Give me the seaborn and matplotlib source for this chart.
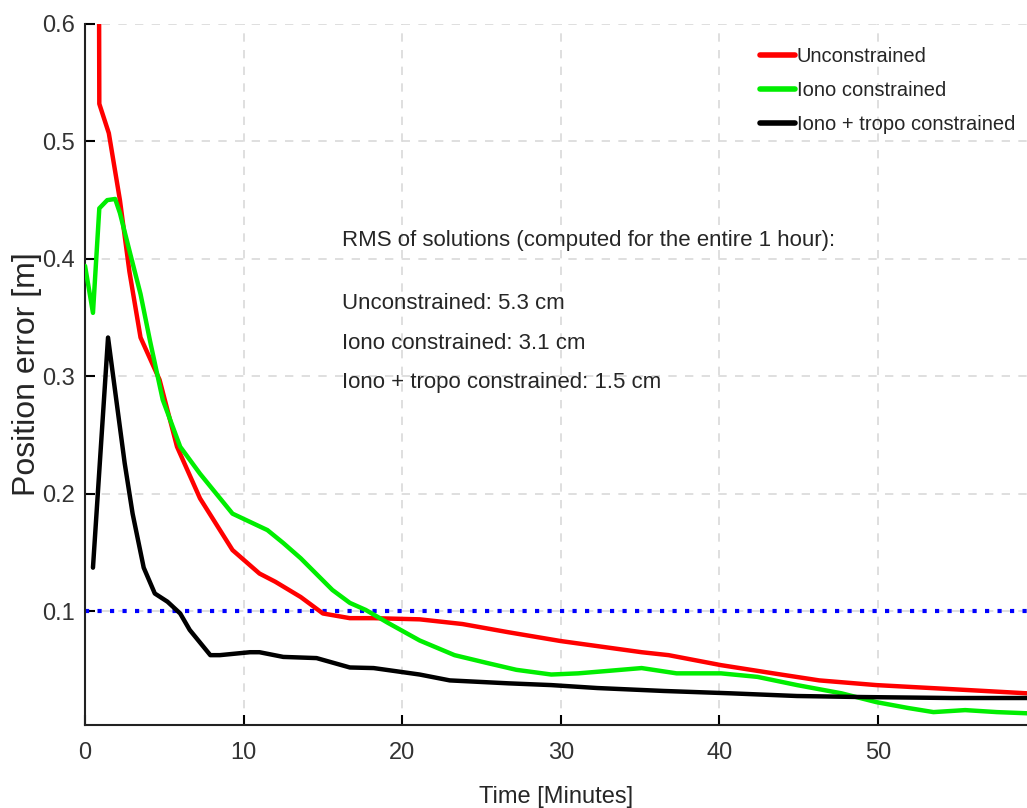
import matplotlib
matplotlib.use('Agg')
import matplotlib.pyplot as plt
import seaborn as sns
import pandas as pd
import numpy as np

# --- data ---
t_unc = [0.85, 0.9, 1.5, 2.2, 2.8, 3.5, 4.7, 5.8, 7.25, 9.3, 11.0, 12.0, 13.6, 15.0, 16.7,
         18.2, 21.1, 23.8, 26.7, 30.0, 35.1, 36.8, 40.1, 43.4, 46.3, 49.9, 54.7, 59.4]
e_unc = [0.80, 0.532, 0.507, 0.45, 0.389, 0.333, 0.297, 0.24, 0.196, 0.152, 0.132, 0.125, 0.112, 0.098, 0.094,
         0.094, 0.093, 0.089, 0.082, 0.0745, 0.065, 0.0625, 0.054, 0.047, 0.041, 0.037, 0.0335, 0.030]

t_iono = [0.0, 0.5, 0.9, 1.4, 1.9, 2.2, 2.8, 3.5, 4.1, 4.9, 6.0, 7.25, 9.3, 11.5, 12.5, 13.6, 15.6, 16.7,
          17.7, 19.1, 21.1, 23.3, 25.3, 27.2, 29.4, 31.1, 32.9, 35.1, 37.3, 40.1, 42.4, 44.9, 47.7, 49.9,
          51.9, 53.5, 55.5, 57.5, 59.4]
e_iono = [0.394, 0.354, 0.443, 0.45, 0.451, 0.439, 0.407, 0.37, 0.33, 0.28, 0.24, 0.217, 0.183, 0.169, 0.158, 0.145, 0.118, 0.107,
          0.101, 0.090, 0.075, 0.0625, 0.056, 0.050, 0.046, 0.047, 0.049, 0.0515, 0.047, 0.047, 0.044, 0.037, 0.030, 0.0225,
          0.0175, 0.014, 0.0157, 0.014, 0.013]

t_trop = [0.5, 1.45, 2.5, 3.0, 3.7, 4.4, 5.2, 6.0, 6.6, 7.9, 8.5, 10.4, 11.0, 12.5, 14.6, 16.7,
          18.2, 21.1, 23.0, 26.7, 29.4, 32.3, 36.5, 40.7, 44.9, 49.1, 54.7, 59.4]
e_trop = [0.137, 0.333, 0.226, 0.183, 0.137, 0.115, 0.108, 0.098, 0.084, 0.0625, 0.0625, 0.065, 0.065, 0.061, 0.060, 0.052,
          0.0515, 0.046, 0.041, 0.0385, 0.037, 0.0345, 0.032, 0.030, 0.0277, 0.0268, 0.026, 0.026]

labels = ['Unconstrained', 'Iono constrained', 'Iono + tropo constrained']
colors = ['#ff0000', '#00ee00', '#000000']
threshold = 0.1

rms_title = 'RMS of solutions (computed for the entire 1 hour):'
rms_lines = ['Unconstrained: 5.3 cm', 'Iono constrained: 3.1 cm', 'Iono + tropo constrained: 1.5 cm']

df = pd.concat([
    pd.DataFrame({'Time': t_unc, 'Error': e_unc, 'Solution': labels[0]}),
    pd.DataFrame({'Time': t_iono, 'Error': e_iono, 'Solution': labels[1]}),
    pd.DataFrame({'Time': t_trop, 'Error': e_trop, 'Solution': labels[2]}),
], ignore_index=True)

sns.set_style('white')
narrow = ['Liberation Sans Narrow', 'Liberation Sans', 'DejaVu Sans']
plt.rcParams['font.family'] = narrow
plt.rcParams['text.color'] = '#262626'

fig = plt.figure(figsize=(10.27, 8.08), dpi=100)
ax = fig.add_axes([0.0828, 0.1027, 0.9172, 0.8676])

ax.grid(True, linestyle=(0, (5, 5)), color='#d9d9d9', linewidth=1.2)
ax.axhline(threshold, color='#0000ff', linestyle=(0, (1, 2)), linewidth=3, zorder=2)

sns.lineplot(data=df, x='Time', y='Error', hue='Solution', palette=dict(zip(labels, colors)),
             estimator=None, sort=False, linewidth=3.2, ax=ax, zorder=3)

ax.set_xlim(0, 59.4)
ax.set_ylim(0.003, 0.6)
ax.set_xticks([0, 10, 20, 30, 40, 50])
ax.set_yticks([0.1, 0.2, 0.3, 0.4, 0.5, 0.6])
ax.set_yticklabels(['0.1', '0.2', '0.3', '0.4', '0.5', '0.6'])
ax.tick_params(direction='in', length=7, width=1.5, colors='black', labelcolor='#333333',
               labelsize=17, pad=7, left=True, bottom=True)
ax.tick_params(axis='x', pad=12)
for s in ['top', 'right']:
    ax.spines[s].set_visible(False)
for s in ['left', 'bottom']:
    ax.spines[s].set_color('#222222')
    ax.spines[s].set_linewidth(1.5)

ax.set_xlabel('Time [Minutes]', fontsize=17, labelpad=16)
ax.set_ylabel('Position error [m]', fontsize=23)
ax.yaxis.set_label_coords(-0.046, 0.5)

ax.text(16.2, 0.4157, rms_title, fontsize=16, va='center', ha='left')
for yy, s in zip([0.3621, 0.328, 0.2949], rms_lines):
    ax.text(16.2, yy, s, fontsize=16, va='center', ha='left')

leg = ax.legend(loc='upper right', bbox_to_anchor=(1.0, 0.985), frameon=False, fontsize=14.5,
                handlelength=1.7, handletextpad=0.1, labelspacing=0.75, borderaxespad=0.2)
for h in leg.get_lines():
    h.set_linewidth(4)

fig.savefig('out.png', dpi=100)
